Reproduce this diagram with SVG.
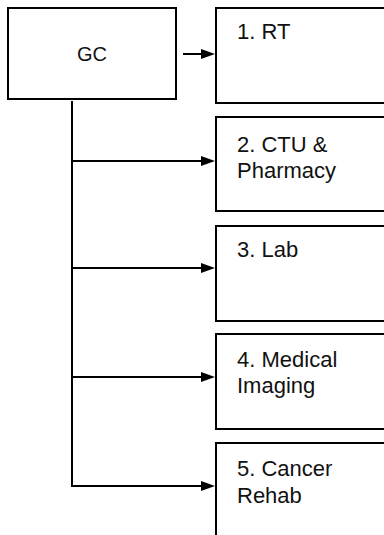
<svg xmlns="http://www.w3.org/2000/svg" width="384" height="535" viewBox="0 0 384 535">
  <style>
    .box { fill: #ffffff; stroke: #000000; stroke-width: 2; }
    .label { font-family: "Liberation Sans", Arial, sans-serif; font-size: 22px; fill: #111111; }
    .link { fill: none; stroke: #000000; stroke-width: 2; }
    .head { fill: #000000; stroke: none; }
  </style>
  <rect width="384" height="535" fill="#ffffff"/>

  <g id="gc">
    <rect class="box" x="8" y="8" width="168" height="91"/>
    <text class="label" x="92" y="61" text-anchor="middle" style="font-size:20px">GC</text>
  </g>

  <g id="rt">
    <rect class="box" x="216" y="8" width="200" height="95"/>
    <text class="label" x="237" y="39">1. RT</text>
  </g>

  <g id="ctu-pharmacy">
    <rect class="box" x="216" y="117" width="200" height="94"/>
    <text class="label" x="237" y="152">2. CTU &amp;</text>
    <text class="label" x="237" y="178">Pharmacy</text>
  </g>

  <g id="lab">
    <rect class="box" x="216" y="226" width="200" height="95"/>
    <text class="label" x="237" y="257">3. Lab</text>
  </g>

  <g id="medical-imaging">
    <rect class="box" x="216" y="334" width="200" height="95"/>
    <text class="label" x="237" y="367">4. Medical</text>
    <text class="label" x="237" y="393">Imaging</text>
  </g>

  <g id="cancer-rehab">
    <rect class="box" x="216" y="443" width="200" height="120"/>
    <text class="label" x="237" y="476">5. Cancer</text>
    <text class="label" x="237" y="503">Rehab</text>
  </g>

  <g id="connectors">
    <!-- direct link GC -> RT -->
    <line class="link" x1="183" y1="54" x2="203" y2="54"/>
    <polygon class="head" points="201,49 215,54 201,59"/>
    <!-- trunk down the left side -->
    <line class="link" x1="72" y1="101" x2="72" y2="486"/>
    <!-- branches -->
    <line class="link" x1="71" y1="161" x2="203" y2="161"/>
    <polygon class="head" points="201,156 215,161 201,166"/>
    <line class="link" x1="71" y1="268" x2="203" y2="268"/>
    <polygon class="head" points="201,263 215,268 201,273"/>
    <line class="link" x1="71" y1="377" x2="203" y2="377"/>
    <polygon class="head" points="201,372 215,377 201,382"/>
    <line class="link" x1="71" y1="486" x2="203" y2="486"/>
    <polygon class="head" points="201,481 215,486 201,491"/>
  </g>
</svg>
